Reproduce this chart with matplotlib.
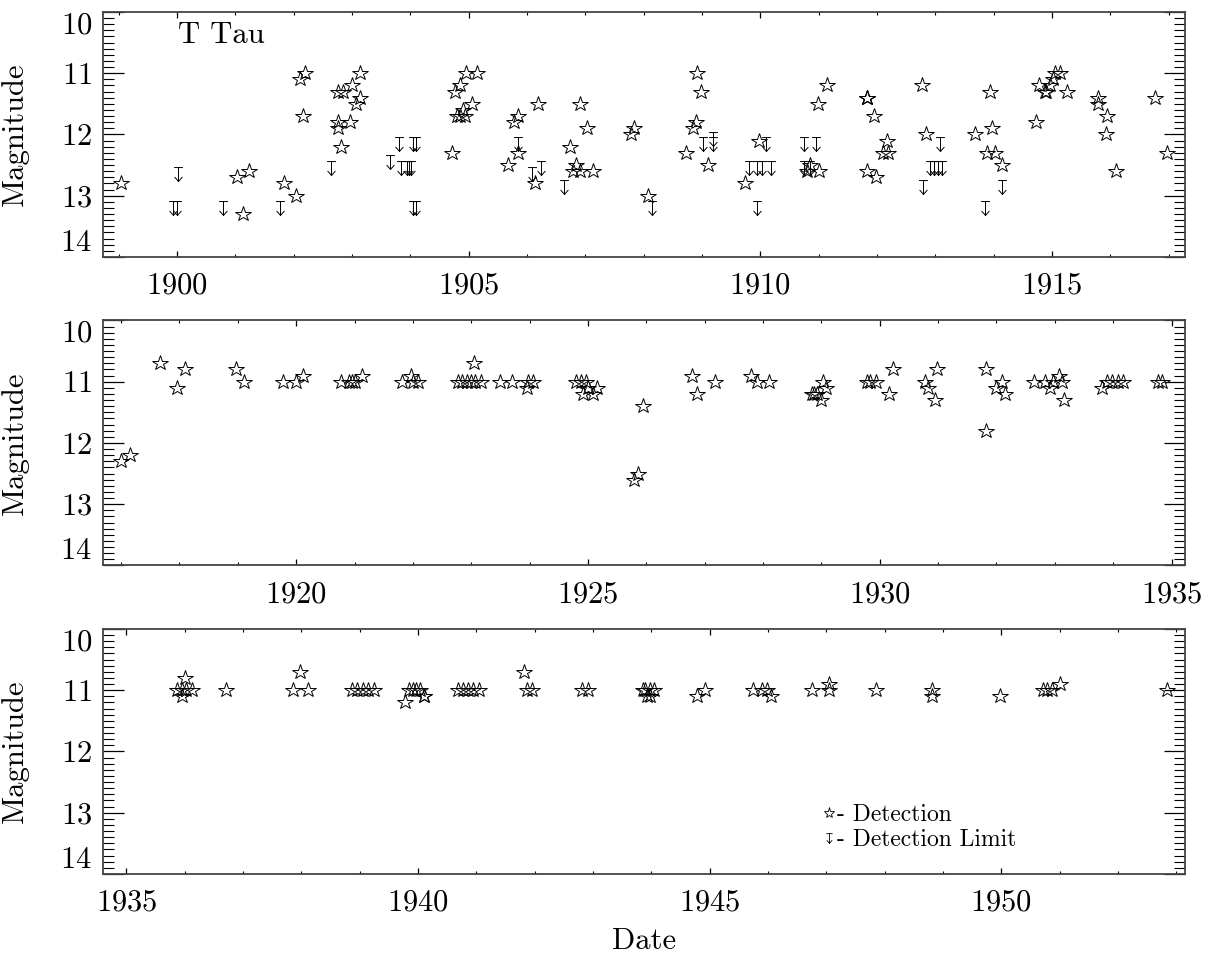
"""T Tau historical light curve, three stacked panels."""

import matplotlib
matplotlib.use("Agg")
import matplotlib.pyplot as plt
from matplotlib.lines import Line2D
from matplotlib.path import Path
from matplotlib.ticker import MultipleLocator

plt.rcParams["font.family"] = ["cmr10", "DejaVu Serif"]
plt.rcParams["mathtext.fontset"] = "cm"
plt.rcParams["axes.formatter.use_mathtext"] = True

# ---- panel 1 (1899-1917) ----
p1_det_year = [
    1899.04, 1901.03, 1901.24, 1901.13, 1901.84, 1902.03, 1902.10, 1902.20,
    1902.16, 1902.75, 1902.84, 1902.75, 1902.75, 1902.97, 1902.81, 1903.00,
    1903.14, 1903.13, 1903.06, 1904.71, 1904.76, 1904.85, 1904.96, 1905.15,
    1904.80, 1904.85, 1904.94, 1904.91, 1905.05, 1905.68, 1905.77, 1905.84,
    1905.84, 1906.18, 1906.14, 1906.74, 1906.90, 1906.84, 1906.78, 1906.91,
    1907.13, 1907.02, 1907.78, 1907.84, 1908.08, 1908.73, 1908.84, 1908.90,
    1908.91, 1908.98, 1909.10, 1909.74, 1909.97, 1910.98, 1911.14, 1910.85,
    1910.80, 1911.01, 1911.82, 1911.82, 1911.83, 1911.95, 1911.82, 1911.99,
    1912.17, 1912.10, 1912.19, 1912.77, 1912.84, 1913.68, 1913.94, 1913.97,
    1913.88, 1914.02, 1914.15, 1914.73, 1914.78, 1914.88, 1914.89, 1914.96,
    1915.01, 1915.05, 1915.13, 1915.25, 1915.78, 1915.79, 1915.94, 1915.93,
    1916.10, 1916.77, 1916.98,
]
p1_det_mag = [
    12.8, 12.7, 12.6, 13.3, 12.8, 13.0, 11.1, 11.0,
    11.7, 11.3, 11.3, 11.8, 11.9, 11.8, 12.2, 11.2,
    11.0, 11.4, 11.5, 12.3, 11.3, 11.2, 11.0, 11.0,
    11.7, 11.7, 11.7, 11.6, 11.5, 12.5, 11.8, 11.7,
    12.3, 11.5, 12.8, 12.2, 11.5, 12.5, 12.6, 12.6,
    12.6, 11.9, 12.0, 11.9, 13.0, 12.3, 11.9, 11.8,
    11.0, 11.3, 12.5, 12.8, 12.1, 11.5, 11.2, 12.5,
    12.6, 12.6, 11.4, 11.4, 11.4, 11.7, 12.6, 12.7,
    12.1, 12.3, 12.3, 11.2, 12.0, 12.0, 11.3, 11.9,
    12.3, 12.3, 12.5, 11.8, 11.2, 11.3, 11.3, 11.2,
    11.1, 11.0, 11.0, 11.3, 11.4, 11.5, 11.7, 12.0,
    12.6, 11.4, 12.3,
]
p1_lim_year = [
    1899.93, 1900.00, 1900.01, 1900.79, 1901.77, 1902.64, 1903.65, 1903.80,
    1903.83, 1903.94, 1903.98, 1904.01, 1904.05, 1904.09, 1904.05, 1904.09,
    1905.85, 1906.08, 1906.24, 1906.64, 1908.14, 1909.01, 1909.18, 1909.18,
    1909.81, 1909.94, 1910.02, 1910.19, 1909.94, 1910.10, 1910.74, 1910.95,
    1910.75, 1910.85, 1912.79, 1913.08, 1912.91, 1912.98, 1913.05, 1913.11,
    1913.85, 1914.14,
]
p1_lim_mag = [
    13.2, 13.2, 12.65, 13.2, 13.2, 12.55, 12.45, 12.15,
    12.55, 12.55, 12.55, 12.55, 12.15, 12.15, 13.2, 13.2,
    12.15, 12.65, 12.55, 12.85, 13.2, 12.15, 12.08, 12.15,
    12.55, 12.55, 12.55, 12.55, 13.2, 12.15, 12.15, 12.15,
    12.55, 12.55, 12.85, 12.15, 12.55, 12.55, 12.55, 12.55,
    13.2, 12.85,
]

# ---- panel 2 (1917-1935) ----
p2_det_year = [
    1917.00, 1917.15, 1917.66, 1917.95, 1918.10, 1918.97, 1919.11, 1919.77,
    1920.00, 1920.12, 1920.77, 1920.91, 1920.96, 1921.00, 1921.13, 1921.82,
    1921.96, 1922.00, 1922.09, 1922.77, 1922.84, 1922.92, 1923.00, 1923.07,
    1923.17, 1923.05, 1923.49, 1923.70, 1923.98, 1924.05, 1923.96, 1924.79,
    1924.88, 1924.96, 1924.91, 1925.09, 1925.00, 1925.15, 1925.94, 1925.78,
    1925.86, 1926.79, 1926.87, 1927.18, 1927.79, 1927.90, 1928.11, 1928.83,
    1928.87, 1928.92, 1928.99, 1929.02, 1929.07, 1929.78, 1929.84, 1929.94,
    1930.22, 1930.16, 1930.77, 1930.82, 1930.98, 1930.95, 1931.82, 1931.82,
    1931.99, 1932.09, 1932.14, 1932.64, 1932.83, 1932.92, 1932.97, 1933.07,
    1933.13, 1933.15, 1933.81, 1933.89, 1933.98, 1934.08, 1934.16, 1934.77,
    1934.84,
]
p2_det_mag = [
    12.3, 12.2, 10.7, 11.1, 10.8, 10.8, 11.0, 11.0,
    11.0, 10.9, 11.0, 11.0, 11.0, 11.0, 10.9, 11.0,
    10.9, 11.0, 11.0, 11.0, 11.0, 11.0, 11.0, 11.0,
    11.0, 10.7, 11.0, 11.0, 11.0, 11.0, 11.1, 11.0,
    11.0, 11.0, 11.2, 11.2, 11.1, 11.1, 11.4, 12.6,
    12.5, 10.9, 11.2, 11.0, 10.9, 11.0, 11.0, 11.2,
    11.2, 11.2, 11.3, 11.0, 11.1, 11.0, 11.0, 11.0,
    10.8, 11.2, 11.0, 11.1, 10.8, 11.3, 10.8, 11.8,
    11.1, 11.0, 11.2, 11.0, 11.0, 11.1, 11.0, 10.9,
    11.0, 11.3, 11.1, 11.0, 11.0, 11.0, 11.0, 11.0,
    11.0,
]

# ---- panel 3 (1935-1953) ----
p3_det_year = [
    1935.87, 1935.96, 1936.03, 1936.12, 1935.95, 1936.01, 1936.70, 1937.86,
    1938.12, 1937.98, 1938.87, 1938.96, 1939.05, 1939.15, 1939.24, 1939.78,
    1939.85, 1939.91, 1939.97, 1940.03, 1940.10, 1940.11, 1940.68, 1940.77,
    1940.86, 1940.95, 1941.04, 1941.81, 1941.87, 1941.96, 1942.82, 1942.91,
    1943.86, 1943.92, 1943.89, 1943.98, 1944.05, 1943.98, 1944.78, 1944.92,
    1945.75, 1945.89, 1945.98, 1946.06, 1946.76, 1947.05, 1947.05, 1947.85,
    1948.81, 1948.81, 1949.98, 1950.72, 1950.79, 1950.87, 1951.01, 1952.85,
]
p3_det_mag = [
    11.0, 11.0, 11.0, 11.0, 11.1, 10.8, 11.0, 11.0,
    11.0, 10.7, 11.0, 11.0, 11.0, 11.0, 11.0, 11.2,
    11.0, 11.0, 11.0, 11.0, 11.1, 11.1, 11.0, 11.0,
    11.0, 11.0, 11.0, 10.7, 11.0, 11.0, 11.0, 11.0,
    11.0, 11.1, 11.0, 11.0, 11.0, 11.1, 11.1, 11.0,
    11.0, 11.0, 11.0, 11.1, 11.0, 11.0, 10.9, 11.0,
    11.0, 11.1, 11.1, 11.0, 11.0, 11.0, 10.9, 11.0,
]

x_ranges = [(1898.73, 1917.28), (1916.69, 1935.23), (1934.60, 1953.15)]

# "T" bar on top, shaft, open arrow head pointing down
_LIMIT = Path(
    [(-0.32, 0.5), (0.32, 0.5), (0.0, 0.5), (0.0, -0.5),
     (-0.28, -0.18), (0.0, -0.5), (0.28, -0.18)],
    [Path.MOVETO, Path.LINETO, Path.MOVETO, Path.LINETO,
     Path.MOVETO, Path.LINETO, Path.LINETO],
)

STAR = dict(marker="*", ls="none", mfc="none", mec="black", ms=11.5, mew=0.7)
LIMIT = dict(marker=_LIMIT, ls="none", mfc="none", mec="black", ms=10, mew=0.7)
FS = 22

fig = plt.figure(figsize=(12.18, 9.56), dpi=100)
left, width, height = 0.0846, 0.8883, 0.2563
bottoms = [0.7312, 0.4085, 0.0858]

panels = [
    (p1_det_year, p1_det_mag, p1_lim_year, p1_lim_mag),
    (p2_det_year, p2_det_mag, [], []),
    (p3_det_year, p3_det_mag, [], []),
]

axes = []
for i, (dy, dm, ly, lm) in enumerate(panels):
    ax = fig.add_axes([left, bottoms[i], width, height])
    ax.plot(dy, dm, **STAR)
    if ly:
        ax.plot(ly, lm, **LIMIT)
    ax.set_xlim(*x_ranges[i])
    ax.set_ylim(14.0, 10.0)
    ax.set_yticks([10, 11, 12, 13, 14])
    ax.yaxis.set_minor_locator(MultipleLocator(0.1))
    ax.xaxis.set_major_locator(MultipleLocator(5))
    ax.xaxis.set_minor_locator(MultipleLocator(1))
    ax.tick_params(axis="y", which="major", direction="in", length=15,
                   width=0.9, left=True, right=True, labelsize=FS, pad=8)
    ax.tick_params(axis="y", which="minor", direction="in", length=8,
                   width=0.8, left=True, right=True)
    ax.tick_params(axis="x", which="major", direction="in", length=4,
                   width=0.9, top=True, bottom=True, labelsize=FS, pad=11)
    ax.tick_params(axis="x", which="minor", direction="in", length=2.5,
                   width=0.8, top=True, bottom=True)
    for sp in ax.spines.values():
        sp.set_linewidth(1.3)
        sp.set_color("#444444")
    yt = ax.yaxis.get_major_ticks()
    yt[0].label1.set_va("top")
    yt[-1].label1.set_va("bottom")
    ax.set_ylabel("Magnitude", fontsize=FS)
    ax.yaxis.set_label_coords(-0.069, 0.5)
    axes.append(ax)

axes[0].text(0.069, 0.96, "T Tau", transform=axes[0].transAxes,
             fontsize=FS, va="top", ha="left")

axes[2].set_xlabel("Date", fontsize=FS)
axes[2].xaxis.set_label_coords(0.5, -0.22)

handles = [
    Line2D([], [], marker="*", ls="none", mfc="none", mec="black", ms=8, mew=0.6),
    Line2D([], [], marker=_LIMIT, ls="none", mfc="none", mec="black", ms=7, mew=0.6),
]
axes[2].legend(handles, ["- Detection", "- Detection Limit"], loc="upper left",
               bbox_to_anchor=(0.654, 0.335), frameon=False, fontsize=17,
               handlelength=0.55, handletextpad=0.05, labelspacing=0.15,
               borderpad=0.0)

fig.savefig("out.png", dpi=100)
